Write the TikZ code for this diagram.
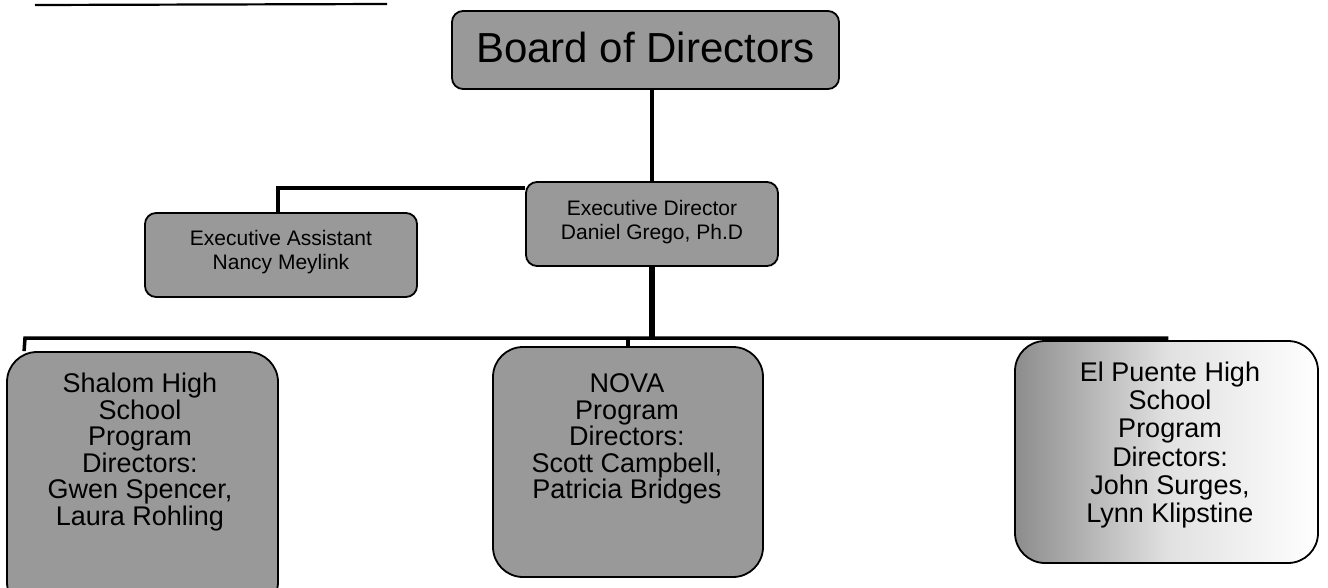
\documentclass[tikz,border=0pt]{standalone}
\usepackage{fontspec}
\setmainfont{Liberation Sans}
\usetikzlibrary{calc}
\begin{document}
\begin{tikzpicture}[x=1pt,y=-1pt,
  box/.style={draw=black, line width=1.8pt, fill=black!40, inner sep=0pt},
  smallbox/.style={box, rounded corners=11pt},
  bigbox/.style={box, rounded corners=30pt},
  conn/.style={line width=3.5pt, draw=black},
  thick conn/.style={line width=6pt, draw=black},
  lbl/.style={align=center, text=black, inner sep=0pt},
  boardfont/.style={font=\fontsize{42}{46}\selectfont},
  midfont/.style={font=\fontsize{21}{23.5}\selectfont},
  lowfont/.style={font=\fontsize{27}{26.5}\selectfont}
]
\useasboundingbox (0,0) rectangle (1328,587);
\begin{scope}
\clip (0,0) rectangle (1328,587);
% cut-off heading underline at the top left
\draw[line width=2.2pt] (35,5) -- (387,4);

% boxes
\node[smallbox, minimum width=387pt, minimum height=78pt] (board) at (645.5,50) {};
\node[smallbox, minimum width=252pt, minimum height=84pt] (execdir) at (652,224) {};
\node[smallbox, minimum width=272pt, minimum height=84pt] (assist) at (281,255) {};
\node[bigbox, minimum width=271pt, minimum height=260pt] (shalom) at (142.5,482) {};
\node[bigbox, minimum width=270pt, minimum height=230pt] (nova) at (628,462) {};
\node[bigbox, fill=none, left color=black!45, right color=white, middle color=black!12,
      minimum width=303pt, minimum height=222pt] (elpuente) at (1166.5,452) {};

% texts
\node[lbl, boardfont] (boardt) at (645.5,47) {Board of Directors};
\node[lbl, midfont] (execdirt) at (652,222) {Executive Director\\Daniel Grego, Ph.D};
\node[lbl, midfont] (assistt) at (281,252) {Executive Assistant\\Nancy Meylink};
\node[lbl, lowfont] (shalomt) at (140,452) {Shalom High\\School\\Program\\Directors:\\Gwen Spencer,\\Laura Rohling};
\node[lbl, lowfont] (novat) at (627,439) {NOVA\\Program\\Directors:\\Scott Campbell,\\Patricia Bridges};
\node[lbl, lowfont, font=\fontsize{27}{28.2}\selectfont] (elpuentet) at (1170,445) {El Puente High\\School\\Program\\Directors:\\John Surges,\\Lynn Klipstine};

% connectors
\coordinate (bus) at (25,338);
\draw[conn] (execdir.north |- board.south) -- (execdir.north);
\draw[conn] ($(execdir.north west)+(0,7)$) -| ($(assist.north)+(-3,0)$);
\draw[thick conn] (execdir.south) -- (execdir.south |- bus);
\draw[conn] ($(shalom.north west)+(18,0)$) -- (bus) -| (elpuente.north);
\draw[conn] (nova.north) -- (nova.north |- bus);
\end{scope}
\end{tikzpicture}
\end{document}
